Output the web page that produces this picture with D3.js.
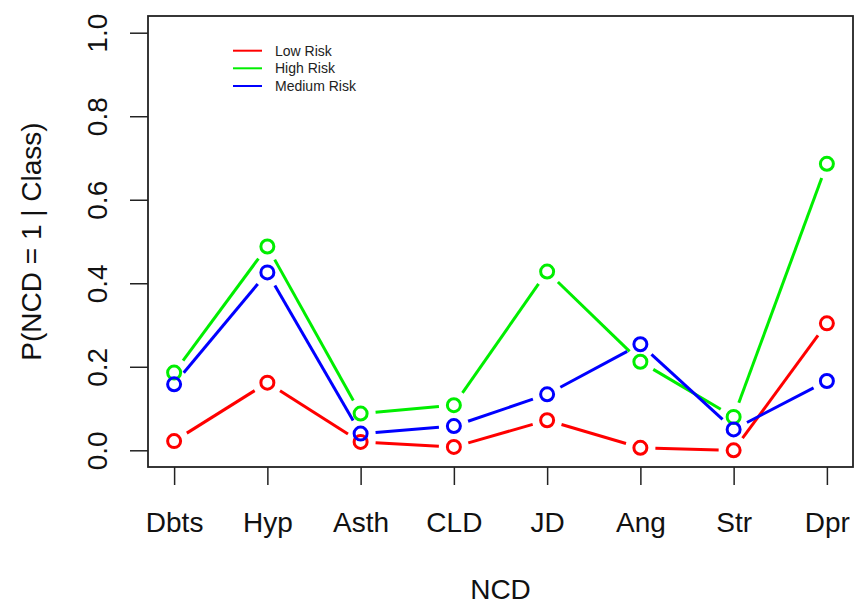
<!DOCTYPE html>
<html>
<head>
<meta charset="utf-8">
<script src="https://cdn.jsdelivr.net/npm/d3@7"></script>
<style>
  html, body { margin: 0; padding: 0; background: #fff; }
  svg { display: block; font-family: "Liberation Sans", Arial, Helvetica, sans-serif; }
</style>
</head>
<body>
<svg id="chart" width="854" height="606"></svg>
<script>
// NCD categories on the x axis
const categories = ["Dbts", "Hyp", "Asth", "CLD", "JD", "Ang", "Str", "Dpr"];

// P(NCD = 1 | Class) for each risk class
const lowRisk    = [0.022, 0.162, 0.020, 0.008, 0.072, 0.006, 0.000, 0.304];
const highRisk   = [0.186, 0.488, 0.088, 0.108, 0.428, 0.212, 0.080, 0.686];
const mediumRisk = [0.158, 0.426, 0.040, 0.058, 0.134, 0.254, 0.050, 0.166];

const yTicks = [0.0, 0.2, 0.4, 0.6, 0.8, 1.0];

const seriesNames  = ["Low Risk", "High Risk", "Medium Risk"];
const seriesColors = ["#ff0000", "#00ee00", "#0000ff"];
const seriesValues = [lowRisk, highRisk, mediumRisk];

const svg = d3.select("#chart");
const box = { left: 148, right: 853, top: 16, bottom: 467 };

// 4% padding on each side of the data range
const x = d3.scaleLinear().domain([0.72, 8.28]).range([box.left, box.right]);
const y = d3.scaleLinear().domain([-0.04, 1.04]).range([box.bottom, box.top]);

// y axis
const yAxis = svg.append("g")
  .attr("transform", `translate(${box.left},0)`)
  .call(d3.axisLeft(y).tickValues(yTicks).tickSize(18).tickFormat(d3.format(".1f")));
yAxis.select(".domain").remove();
yAxis.selectAll(".tick line").attr("stroke", "#222").attr("stroke-width", 1.5);
yAxis.selectAll(".tick text")
  .attr("x", null).attr("dy", null)
  .attr("transform", "translate(-41,0) rotate(-90)")
  .attr("text-anchor", "middle")
  .attr("fill", "#111")
  .style("font-size", "28px");

// x axis
const xAxis = svg.append("g")
  .attr("transform", `translate(0,${box.bottom})`)
  .call(d3.axisBottom(x).tickValues(d3.range(1, categories.length + 1)).tickSize(18)
    .tickFormat(i => categories[i - 1]));
xAxis.select(".domain").remove();
xAxis.selectAll(".tick line").attr("stroke", "#222").attr("stroke-width", 1.5);
xAxis.selectAll(".tick text")
  .attr("y", 65).attr("dy", null)
  .attr("fill", "#111")
  .style("font-size", "28px");

// plot frame
svg.append("rect")
  .attr("x", box.left).attr("y", box.top)
  .attr("width", box.right - box.left).attr("height", box.bottom - box.top)
  .attr("fill", "none").attr("stroke", "#222").attr("stroke-width", 1.8);

// axis titles
svg.append("text")
  .attr("x", (box.left + box.right) / 2).attr("y", 599)
  .attr("text-anchor", "middle").attr("fill", "#111")
  .style("font-size", "28px").text("NCD");
svg.append("text")
  .attr("transform", `translate(41,${(box.top + box.bottom) / 2}) rotate(-90)`)
  .attr("text-anchor", "middle").attr("fill", "#111")
  .style("font-size", "28px").text("P(NCD = 1 | Class)");

// lines with gaps around the points, then open circles
const gap = 15;
seriesValues.forEach((vals, s) => {
  const g = svg.append("g");
  const pts = vals.map((v, i) => [x(i + 1), y(v)]);
  for (let i = 0; i < pts.length - 1; i++) {
    const [x0, y0] = pts[i], [x1, y1] = pts[i + 1];
    const len = Math.hypot(x1 - x0, y1 - y0);
    if (len <= 2 * gap) continue;
    const ux = (x1 - x0) / len, uy = (y1 - y0) / len;
    g.append("line")
      .attr("x1", x0 + ux * gap).attr("y1", y0 + uy * gap)
      .attr("x2", x1 - ux * gap).attr("y2", y1 - uy * gap)
      .attr("stroke", seriesColors[s]).attr("stroke-width", 3);
  }
  g.selectAll("circle").data(vals).join("circle")
    .attr("cx", (d, i) => x(i + 1)).attr("cy", d => y(d))
    .attr("r", 6.5)
    .attr("fill", "none").attr("stroke", seriesColors[s]).attr("stroke-width", 3);
});

// legend
const legend = svg.append("g");
const rowY = [50.7, 68.3, 86];
seriesNames.forEach((name, i) => {
  legend.append("line")
    .attr("x1", 233).attr("x2", 262).attr("y1", rowY[i]).attr("y2", rowY[i])
    .attr("stroke", seriesColors[i]).attr("stroke-width", 2);
  legend.append("text")
    .attr("x", 275).attr("y", rowY[i]).attr("dy", "0.35em")
    .attr("fill", "#222").style("font-size", "14px").text(name);
});
</script>
</body>
</html>
